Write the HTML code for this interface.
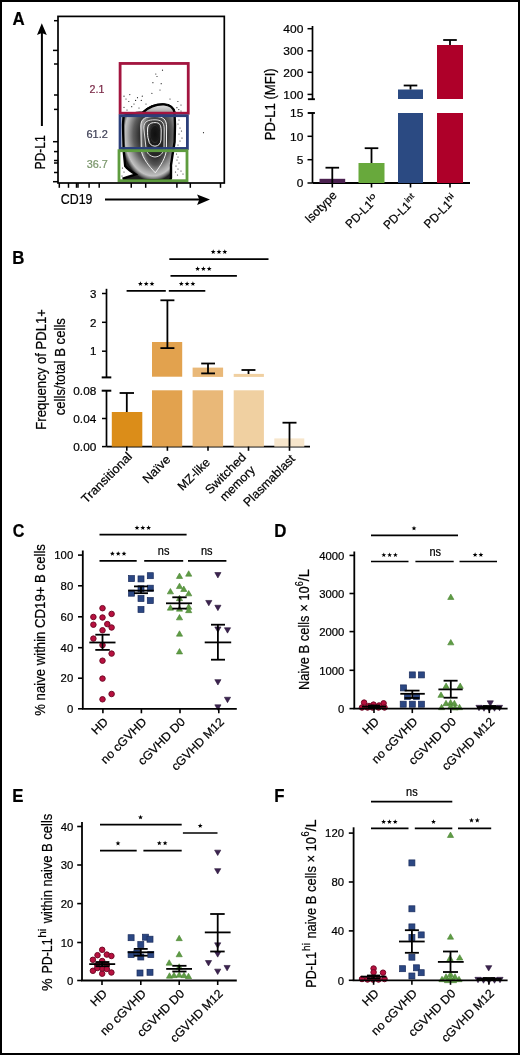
<!DOCTYPE html>
<html><head><meta charset="utf-8"><style>
html,body{margin:0;padding:0;background:#fff;}
svg{display:block;font-family:"Liberation Sans", sans-serif;will-change:transform;}
svg text{stroke:#000;stroke-width:0.22px;}
</style></head><body>
<svg width="520" height="1055" viewBox="0 0 520 1055">
<rect x="0" y="0" width="520" height="1055" fill="#fff"/>
<text transform="translate(12.4,25.4) scale(0.92,1)" font-size="18.3" font-weight="bold">A</text>
<text transform="translate(12.27,264.4) scale(0.92,1)" font-size="18.3" font-weight="bold">B</text>
<text transform="translate(12.74,537.3) scale(0.88,1)" font-size="18.3" font-weight="bold">C</text>
<text transform="translate(274.27,537.4) scale(0.92,1)" font-size="18.3" font-weight="bold">D</text>
<text transform="translate(12.27,802.3) scale(0.92,1)" font-size="18.3" font-weight="bold">E</text>
<text transform="translate(274.27,802.3) scale(0.92,1)" font-size="18.3" font-weight="bold">F</text>
<defs><radialGradient id="gOut" gradientUnits="userSpaceOnUse" cx="153" cy="135" r="32" gradientTransform="translate(153 135) scale(1 1.45) translate(-153 -135)"><stop offset="0.42" stop-color="#2e2e2e"/><stop offset="0.62" stop-color="#5e5e5e"/><stop offset="0.8" stop-color="#a8a8a8"/><stop offset="0.88" stop-color="#c2c2c2"/><stop offset="0.95" stop-color="#6a6a6a"/><stop offset="1" stop-color="#202020"/></radialGradient><linearGradient id="gTop" x1="0" y1="0" x2="0" y2="1"><stop offset="0" stop-color="#e6e6e6"/><stop offset="0.6" stop-color="#b8b8b8"/><stop offset="1" stop-color="#8a8a8a"/></linearGradient><radialGradient id="gR2" gradientUnits="userSpaceOnUse" cx="155.5" cy="140" r="15" gradientTransform="translate(155.5 140) scale(1 2.1) translate(-155.5 -140)"><stop offset="0.5" stop-color="#262626"/><stop offset="0.8" stop-color="#555"/><stop offset="1" stop-color="#a0a0a0"/></radialGradient><radialGradient id="gR1" gradientUnits="userSpaceOnUse" cx="155.3" cy="136" r="9" gradientTransform="translate(155.3 136) scale(1 2.2) translate(-155.3 -136)"><stop offset="0.55" stop-color="#1a1a1a"/><stop offset="0.82" stop-color="#4a4a4a"/><stop offset="1" stop-color="#9a9a9a"/></radialGradient><radialGradient id="gC" gradientUnits="userSpaceOnUse" cx="155" cy="134" r="6" gradientTransform="translate(155 134) scale(1 1.8) translate(-155 -134)"><stop offset="0" stop-color="#101010"/><stop offset="0.7" stop-color="#1a1a1a"/><stop offset="1" stop-color="#606060"/></radialGradient></defs>
<path d="M143,112.5 C150,106 157,104.2 164,104.5 C170,105 173.5,108 174.5,112.5 L175,125 L174.6,142 L172.5,155 L171,165 L171,178 L170,180.3 L124,180.3 L123.6,178.3 C127.5,177 131.5,175.8 135.5,174.3 C131,171.5 127.5,169 125.2,166 L123.6,150 L123,125 L123.5,116 C128,114 136,113 143,112.5 Z" fill="url(#gOut)" stroke="#000" stroke-width="2.4"/>
<path d="M143,112.5 C150,106 157,104.2 164,104.5 C170,105 173.5,108 174.5,112.5 L174.6,114 L142,114 Z" fill="url(#gTop)"/>
<path d="M143,112.5 C150,106 157,104.2 164,104.5 C170,105 173.5,108 174.5,112.5" fill="none" stroke="#000" stroke-width="2.2"/>
<path d="M140.8,126 C140.8,118 146,116.5 155,116.5 C163,116.5 166.6,119 166.6,127 L166.4,150 C165.5,158 161,165 155.3,172.8 C149,166 143,159 141.3,151 Z" fill="url(#gR2)" stroke="#f2f2f2" stroke-width="1.0"/>
<path d="M143.8,128 C143.8,121 148.5,119.8 155,119.8 C161,119.8 164.2,122 164.2,129 L164,148 C163.5,153 160.5,156.5 155,157 C149.5,156.5 146.5,153 146,148 Z" fill="url(#gR2)" stroke="#eeeeee" stroke-width="0.9"/>
<path d="M147.5,130 C147.5,124 150.5,122.6 155,122.6 C159.5,122.6 161.2,124.5 161.2,131 L161,140 C160.5,144 158.5,146 155,146.2 C151.5,146 149,144 148.6,140 C147.5,137 147.5,134 147.5,130 Z" fill="url(#gR1)" stroke="#f0f0f0" stroke-width="1.0"/>
<ellipse cx="154.8" cy="134" rx="4.6" ry="9" fill="url(#gC)"/>
<circle cx="162.5" cy="70.2" r="0.6" fill="#222"/>
<circle cx="155.8" cy="74" r="0.6" fill="#222"/>
<circle cx="157" cy="76.5" r="0.6" fill="#222"/>
<circle cx="152.9" cy="82.7" r="0.6" fill="#222"/>
<circle cx="161.2" cy="83.7" r="0.6" fill="#222"/>
<circle cx="124" cy="96.2" r="0.6" fill="#222"/>
<circle cx="129.8" cy="94.6" r="0.6" fill="#222"/>
<circle cx="137.5" cy="97.7" r="0.6" fill="#222"/>
<circle cx="142.3" cy="96.2" r="0.6" fill="#222"/>
<circle cx="128.8" cy="101.5" r="0.6" fill="#222"/>
<circle cx="135.6" cy="100.4" r="0.6" fill="#222"/>
<circle cx="141.3" cy="100.4" r="0.6" fill="#222"/>
<circle cx="151.9" cy="93.3" r="0.6" fill="#222"/>
<circle cx="177.9" cy="101.5" r="0.6" fill="#222"/>
<circle cx="167.3" cy="104.8" r="0.6" fill="#222"/>
<circle cx="124" cy="107.3" r="0.6" fill="#222"/>
<circle cx="131.7" cy="106.7" r="0.6" fill="#222"/>
<circle cx="176.9" cy="107.7" r="0.6" fill="#222"/>
<circle cx="178.8" cy="109.6" r="0.6" fill="#222"/>
<circle cx="181" cy="111" r="0.6" fill="#222"/>
<circle cx="146" cy="104" r="0.6" fill="#222"/>
<circle cx="134" cy="104" r="0.6" fill="#222"/>
<circle cx="127" cy="110" r="0.6" fill="#222"/>
<circle cx="126" cy="99" r="0.6" fill="#222"/>
<circle cx="139" cy="108" r="0.6" fill="#222"/>
<circle cx="160" cy="90" r="0.6" fill="#222"/>
<circle cx="170" cy="99" r="0.6" fill="#222"/>
<circle cx="181" cy="105" r="0.6" fill="#222"/>
<circle cx="179" cy="120" r="0.6" fill="#222"/>
<circle cx="178" cy="124" r="0.6" fill="#222"/>
<circle cx="180" cy="128" r="0.6" fill="#222"/>
<circle cx="181.5" cy="131" r="0.6" fill="#222"/>
<circle cx="179" cy="134" r="0.6" fill="#222"/>
<circle cx="182" cy="138" r="0.6" fill="#222"/>
<circle cx="180" cy="141" r="0.6" fill="#222"/>
<circle cx="178" cy="145" r="0.6" fill="#222"/>
<circle cx="176.5" cy="154" r="0.6" fill="#222"/>
<circle cx="178" cy="157" r="0.6" fill="#222"/>
<circle cx="177" cy="160" r="0.6" fill="#222"/>
<circle cx="179" cy="163" r="0.6" fill="#222"/>
<circle cx="176" cy="166" r="0.6" fill="#222"/>
<circle cx="178" cy="169" r="0.6" fill="#222"/>
<circle cx="175.5" cy="172" r="0.6" fill="#222"/>
<circle cx="177.5" cy="175" r="0.6" fill="#222"/>
<circle cx="181" cy="171" r="0.6" fill="#222"/>
<circle cx="183" cy="174" r="0.6" fill="#222"/>
<circle cx="203.5" cy="132.7" r="0.6" fill="#222"/>
<circle cx="122.5" cy="168" r="0.6" fill="#222"/>
<circle cx="124" cy="172" r="0.6" fill="#222"/>
<circle cx="122" cy="176" r="0.6" fill="#222"/>
<circle cx="127" cy="176.5" r="0.6" fill="#222"/>
<rect x="120.1" y="63.45" width="68.15" height="49.75" fill="none" stroke="#a3153f" stroke-width="2.8"/>
<rect x="120.05" y="115.7" width="67.35" height="32.75" fill="none" stroke="#2b3f7a" stroke-width="2.8"/>
<rect x="119" y="150.7" width="68" height="30" fill="none" stroke="#5e9c3e" stroke-width="2.8"/>
<rect x="58" y="16.4" width="166.3" height="166.6" fill="none" stroke="#000" stroke-width="1.7"/>
<line x1="54" y1="20.7" x2="58" y2="20.7" stroke="#000" stroke-width="1.5"/>
<line x1="53" y1="50.4" x2="58" y2="50.4" stroke="#000" stroke-width="1.5"/>
<line x1="54" y1="64" x2="58" y2="64" stroke="#000" stroke-width="1.5"/>
<line x1="54" y1="95" x2="58" y2="95" stroke="#000" stroke-width="1.5"/>
<line x1="54" y1="109.4" x2="58" y2="109.4" stroke="#000" stroke-width="1.5"/>
<line x1="53" y1="141.7" x2="58" y2="141.7" stroke="#000" stroke-width="1.5"/>
<line x1="54" y1="151.6" x2="58" y2="151.6" stroke="#000" stroke-width="1.5"/>
<line x1="54" y1="160.5" x2="58" y2="160.5" stroke="#000" stroke-width="1.5"/>
<line x1="54" y1="163" x2="58" y2="163" stroke="#000" stroke-width="1.5"/>
<line x1="54" y1="172.5" x2="58" y2="172.5" stroke="#000" stroke-width="1.5"/>
<line x1="53" y1="181.7" x2="58" y2="181.7" stroke="#000" stroke-width="1.5"/>
<line x1="59.3" y1="183" x2="59.3" y2="187.8" stroke="#000" stroke-width="1.5"/>
<line x1="68.5" y1="183" x2="68.5" y2="187.8" stroke="#000" stroke-width="1.5"/>
<line x1="76.5" y1="183" x2="76.5" y2="187.8" stroke="#000" stroke-width="1.5"/>
<line x1="78" y1="183" x2="78" y2="187.8" stroke="#000" stroke-width="1.5"/>
<line x1="89.1" y1="183" x2="89.1" y2="187.8" stroke="#000" stroke-width="1.5"/>
<line x1="99.2" y1="183" x2="99.2" y2="187.8" stroke="#000" stroke-width="1.5"/>
<line x1="131.25" y1="183" x2="131.25" y2="187.8" stroke="#000" stroke-width="1.5"/>
<line x1="145.7" y1="183" x2="145.7" y2="187.8" stroke="#000" stroke-width="1.5"/>
<line x1="176.9" y1="183" x2="176.9" y2="187.8" stroke="#000" stroke-width="1.5"/>
<line x1="190.3" y1="183" x2="190.3" y2="187.8" stroke="#000" stroke-width="1.5"/>
<line x1="220.5" y1="183" x2="220.5" y2="187.8" stroke="#000" stroke-width="1.5"/>
<line x1="41.9" y1="126" x2="41.9" y2="32" stroke="#000" stroke-width="2"/>
<polygon points="41.8,23.2 46.8,34.9 41.8,33 37,34.9" fill="#000"/>
<line x1="105" y1="199.5" x2="200" y2="199.5" stroke="#000" stroke-width="2"/>
<polygon points="210,199.5 197.1,194.6 199.3,199.5 197.1,204.9" fill="#000"/>
<g transform="translate(45.2,169.1) rotate(-90)"><text x="-0.51" y="0" font-size="14.6" textLength="34.42" lengthAdjust="spacingAndGlyphs">PD-L1</text></g>
<text x="60.8" y="204.3" font-size="14.5" fill="#000" textLength="31.7" lengthAdjust="spacingAndGlyphs">CD19</text>
<text x="97" y="93.1" font-size="10.4" fill="#7b2a48" text-anchor="middle" textLength="14.8" lengthAdjust="spacingAndGlyphs" style="stroke:#7b2a48">2.1</text>
<text x="97.2" y="137.7" font-size="10.4" fill="#404258" text-anchor="middle" textLength="21.4" lengthAdjust="spacingAndGlyphs" style="stroke:#404258">61.2</text>
<text x="97.3" y="167.8" font-size="10.4" fill="#7a966b" text-anchor="middle" textLength="21.1" lengthAdjust="spacingAndGlyphs" style="stroke:#7a966b">36.7</text>
<line x1="312.5" y1="26" x2="312.5" y2="99.2" stroke="#000" stroke-width="1.7"/>
<line x1="307.9" y1="99.2" x2="314.9" y2="99.2" stroke="#000" stroke-width="1.9"/>
<line x1="307.5" y1="28.7" x2="312.5" y2="28.7" stroke="#000" stroke-width="1.5"/>
<text x="303.3" y="32.9" font-size="11.6" fill="#000" text-anchor="end" textLength="20" lengthAdjust="spacingAndGlyphs">400</text>
<line x1="307.5" y1="50.8" x2="312.5" y2="50.8" stroke="#000" stroke-width="1.5"/>
<text x="303.3" y="55" font-size="11.6" fill="#000" text-anchor="end" textLength="20" lengthAdjust="spacingAndGlyphs">300</text>
<line x1="307.5" y1="72.3" x2="312.5" y2="72.3" stroke="#000" stroke-width="1.5"/>
<text x="303.3" y="76.5" font-size="11.6" fill="#000" text-anchor="end" textLength="20" lengthAdjust="spacingAndGlyphs">200</text>
<line x1="307.5" y1="94.4" x2="312.5" y2="94.4" stroke="#000" stroke-width="1.5"/>
<text x="303.3" y="98.6" font-size="11.6" fill="#000" text-anchor="end" textLength="20" lengthAdjust="spacingAndGlyphs">100</text>
<line x1="312.5" y1="112.6" x2="312.5" y2="183" stroke="#000" stroke-width="1.7"/>
<line x1="307.7" y1="113" x2="314.9" y2="113" stroke="#000" stroke-width="1.9"/>
<line x1="307.5" y1="136.3" x2="312.5" y2="136.3" stroke="#000" stroke-width="1.5"/>
<text x="303.3" y="140.5" font-size="11.6" fill="#000" text-anchor="end" textLength="13.3" lengthAdjust="spacingAndGlyphs">10</text>
<line x1="307.5" y1="159.7" x2="312.5" y2="159.7" stroke="#000" stroke-width="1.5"/>
<text x="303.3" y="163.9" font-size="11.6" fill="#000" text-anchor="end" textLength="6.6" lengthAdjust="spacingAndGlyphs">5</text>
<line x1="307.5" y1="183" x2="312.5" y2="183" stroke="#000" stroke-width="1.5"/>
<text x="303.3" y="187.2" font-size="11.6" fill="#000" text-anchor="end" textLength="6.6" lengthAdjust="spacingAndGlyphs">0</text>
<text x="303.3" y="117.2" font-size="11.6" fill="#000" text-anchor="end" textLength="13.3" lengthAdjust="spacingAndGlyphs">15</text>
<line x1="312.5" y1="183" x2="470" y2="183" stroke="#000" stroke-width="1.8"/>
<rect x="319.5" y="178.8" width="25.7" height="4.2" fill="#4b2150"/>
<rect x="358.5" y="163" width="26" height="20" fill="#68a93c"/>
<rect x="398" y="113" width="25" height="70" fill="#2b4a82"/>
<rect x="398" y="89.5" width="25" height="9.5" fill="#2b4a82"/>
<rect x="437" y="113" width="26" height="70" fill="#ae0029"/>
<rect x="437" y="45" width="26" height="54" fill="#ae0029"/>
<line x1="332.3" y1="167.7" x2="332.3" y2="183" stroke="#000" stroke-width="1.8"/>
<line x1="325.5" y1="167.7" x2="339.1" y2="167.7" stroke="#000" stroke-width="1.8"/>
<line x1="371.5" y1="148.2" x2="371.5" y2="163" stroke="#000" stroke-width="1.8"/>
<line x1="364.7" y1="148.2" x2="378.3" y2="148.2" stroke="#000" stroke-width="1.8"/>
<line x1="410.5" y1="85.5" x2="410.5" y2="89.5" stroke="#000" stroke-width="1.8"/>
<line x1="403.7" y1="85.5" x2="417.3" y2="85.5" stroke="#000" stroke-width="1.8"/>
<line x1="450" y1="40" x2="450" y2="45" stroke="#000" stroke-width="1.8"/>
<line x1="443.2" y1="40" x2="456.8" y2="40" stroke="#000" stroke-width="1.8"/>
<line x1="332.3" y1="183" x2="332.3" y2="187.5" stroke="#000" stroke-width="1.6"/>
<line x1="371.5" y1="183" x2="371.5" y2="187.5" stroke="#000" stroke-width="1.6"/>
<line x1="410.5" y1="183" x2="410.5" y2="187.5" stroke="#000" stroke-width="1.6"/>
<line x1="450" y1="183" x2="450" y2="187.5" stroke="#000" stroke-width="1.6"/>
<g transform="translate(274.6,139.8) rotate(-90)"><text x="-0.51" y="0" font-size="14.6" textLength="72.02" lengthAdjust="spacingAndGlyphs">PD-L1 (MFI)</text></g>
<text transform="translate(309.71,223.87) rotate(-45)" font-size="12" fill="#000" textLength="39.4" lengthAdjust="spacingAndGlyphs">Isotype</text>
<text transform="translate(350.37,228.89) rotate(-45)" font-size="12" fill="#000" textLength="33.1" lengthAdjust="spacingAndGlyphs">PD-L1</text>
<text transform="translate(369.96,202.23) rotate(-45)" font-size="8.2" fill="#000" textLength="8.5" lengthAdjust="spacingAndGlyphs">lo</text>
<text transform="translate(388.31,229.95) rotate(-45)" font-size="12" fill="#000" textLength="33.1" lengthAdjust="spacingAndGlyphs">PD-L1</text>
<text transform="translate(407.9,203.29) rotate(-45)" font-size="8.2" fill="#000" textLength="9.5" lengthAdjust="spacingAndGlyphs">int</text>
<text transform="translate(428.87,228.89) rotate(-45)" font-size="12" fill="#000" textLength="33.1" lengthAdjust="spacingAndGlyphs">PD-L1</text>
<text transform="translate(448.46,202.23) rotate(-45)" font-size="8.2" fill="#000" textLength="8.2" lengthAdjust="spacingAndGlyphs">hi</text>
<line x1="106.5" y1="288.8" x2="106.5" y2="377.4" stroke="#000" stroke-width="1.7"/>
<line x1="101.7" y1="377.4" x2="111.3" y2="377.4" stroke="#000" stroke-width="2"/>
<line x1="102" y1="293.5" x2="106.5" y2="293.5" stroke="#000" stroke-width="1.5"/>
<text x="96.3" y="297.7" font-size="11.6" fill="#000" text-anchor="end" textLength="6.4" lengthAdjust="spacingAndGlyphs">3</text>
<line x1="102" y1="322.3" x2="106.5" y2="322.3" stroke="#000" stroke-width="1.5"/>
<text x="96.3" y="326.5" font-size="11.6" fill="#000" text-anchor="end" textLength="6.4" lengthAdjust="spacingAndGlyphs">2</text>
<line x1="102" y1="351.2" x2="106.5" y2="351.2" stroke="#000" stroke-width="1.5"/>
<text x="96.3" y="355.4" font-size="11.6" fill="#000" text-anchor="end" textLength="6.4" lengthAdjust="spacingAndGlyphs">1</text>
<line x1="106.5" y1="390.7" x2="106.5" y2="446.6" stroke="#000" stroke-width="1.7"/>
<line x1="101.7" y1="390.7" x2="111.3" y2="390.7" stroke="#000" stroke-width="2"/>
<line x1="102" y1="418.5" x2="106.5" y2="418.5" stroke="#000" stroke-width="1.5"/>
<text x="96.3" y="422.7" font-size="11.6" fill="#000" text-anchor="end" textLength="23" lengthAdjust="spacingAndGlyphs">0.04</text>
<line x1="102" y1="446.6" x2="106.5" y2="446.6" stroke="#000" stroke-width="1.5"/>
<text x="96.3" y="450.8" font-size="11.6" fill="#000" text-anchor="end" textLength="23" lengthAdjust="spacingAndGlyphs">0.00</text>
<text x="96.3" y="394.5" font-size="11.6" fill="#000" text-anchor="end" textLength="23" lengthAdjust="spacingAndGlyphs">0.08</text>
<line x1="106.5" y1="446.6" x2="310" y2="446.6" stroke="#000" stroke-width="1.8"/>
<rect x="111.8" y="412" width="30.5" height="34.6" fill="#db8d19"/>
<rect x="152" y="342" width="30.2" height="34.7" fill="#e2a24e"/>
<rect x="152" y="390.3" width="30.2" height="56.3" fill="#e2a24e"/>
<rect x="192.6" y="367.6" width="30.5" height="9.3" fill="#e9b878"/>
<rect x="192.6" y="390.3" width="30.5" height="56.3" fill="#e9b878"/>
<rect x="233.7" y="373.9" width="30.2" height="3" fill="#f0d0a1"/>
<rect x="233.7" y="390.3" width="30.2" height="56.3" fill="#f0d0a1"/>
<rect x="274.3" y="438.4" width="30" height="8.2" fill="#f7e6cc"/>
<line x1="126.8" y1="393" x2="126.8" y2="412" stroke="#000" stroke-width="1.8"/>
<line x1="119.6" y1="393" x2="134" y2="393" stroke="#000" stroke-width="1.8"/>
<line x1="167.4" y1="300.3" x2="167.4" y2="348.1" stroke="#000" stroke-width="1.8"/>
<line x1="160.4" y1="300.3" x2="174.4" y2="300.3" stroke="#000" stroke-width="1.8"/>
<line x1="160.4" y1="348.1" x2="174.4" y2="348.1" stroke="#000" stroke-width="1.8"/>
<line x1="208" y1="363.5" x2="208" y2="373.4" stroke="#000" stroke-width="1.8"/>
<line x1="201.2" y1="363.5" x2="215" y2="363.5" stroke="#000" stroke-width="1.8"/>
<line x1="201.2" y1="373.4" x2="215" y2="373.4" stroke="#000" stroke-width="1.8"/>
<line x1="248.5" y1="370" x2="248.5" y2="374" stroke="#000" stroke-width="1.8"/>
<line x1="241.5" y1="370" x2="255.4" y2="370" stroke="#000" stroke-width="1.8"/>
<line x1="289.5" y1="422.7" x2="289.5" y2="446.6" stroke="#000" stroke-width="1.8"/>
<line x1="282.5" y1="422.7" x2="296.5" y2="422.7" stroke="#000" stroke-width="1.8"/>
<line x1="126.8" y1="446.6" x2="126.8" y2="450.8" stroke="#000" stroke-width="1.6"/>
<line x1="167.4" y1="446.6" x2="167.4" y2="450.8" stroke="#000" stroke-width="1.6"/>
<line x1="208" y1="446.6" x2="208" y2="450.8" stroke="#000" stroke-width="1.6"/>
<line x1="248.5" y1="446.6" x2="248.5" y2="450.8" stroke="#000" stroke-width="1.6"/>
<line x1="289.5" y1="446.6" x2="289.5" y2="450.8" stroke="#000" stroke-width="1.6"/>
<line x1="126.6" y1="290.8" x2="165.8" y2="290.8" stroke="#000" stroke-width="1.7"/>
<polygon points="140.4,281.25 141.03,282.93 142.83,283.01 141.43,284.13 141.9,285.86 140.4,284.88 138.9,285.86 139.37,284.13 137.97,283.01 139.77,282.93" fill="#000"/>
<polygon points="146.2,281.25 146.83,282.93 148.63,283.01 147.23,284.13 147.7,285.86 146.2,284.88 144.7,285.86 145.17,284.13 143.77,283.01 145.57,282.93" fill="#000"/>
<polygon points="152,281.25 152.63,282.93 154.43,283.01 153.03,284.13 153.5,285.86 152,284.88 150.5,285.86 150.97,284.13 149.57,283.01 151.37,282.93" fill="#000"/>
<line x1="168.8" y1="290.8" x2="205.3" y2="290.8" stroke="#000" stroke-width="1.7"/>
<polygon points="181.3,281.25 181.93,282.93 183.73,283.01 182.33,284.13 182.8,285.86 181.3,284.88 179.8,285.86 180.27,284.13 178.87,283.01 180.67,282.93" fill="#000"/>
<polygon points="187.1,281.25 187.73,282.93 189.53,283.01 188.13,284.13 188.6,285.86 187.1,284.88 185.6,285.86 186.07,284.13 184.67,283.01 186.47,282.93" fill="#000"/>
<polygon points="192.9,281.25 193.53,282.93 195.33,283.01 193.93,284.13 194.4,285.86 192.9,284.88 191.4,285.86 191.87,284.13 190.47,283.01 192.27,282.93" fill="#000"/>
<line x1="170.5" y1="275.8" x2="236.9" y2="275.8" stroke="#000" stroke-width="1.7"/>
<polygon points="197.6,266.25 198.23,267.93 200.03,268.01 198.63,269.13 199.1,270.86 197.6,269.88 196.1,270.86 196.57,269.13 195.17,268.01 196.97,267.93" fill="#000"/>
<polygon points="203.4,266.25 204.03,267.93 205.83,268.01 204.43,269.13 204.9,270.86 203.4,269.88 201.9,270.86 202.37,269.13 200.97,268.01 202.77,267.93" fill="#000"/>
<polygon points="209.2,266.25 209.83,267.93 211.63,268.01 210.23,269.13 210.7,270.86 209.2,269.88 207.7,270.86 208.17,269.13 206.77,268.01 208.57,267.93" fill="#000"/>
<line x1="169.3" y1="259.2" x2="268.5" y2="259.2" stroke="#000" stroke-width="1.7"/>
<polygon points="213.2,249.35 213.83,251.03 215.63,251.11 214.23,252.23 214.7,253.96 213.2,252.98 211.7,253.96 212.17,252.23 210.77,251.11 212.57,251.03" fill="#000"/>
<polygon points="219,249.35 219.63,251.03 221.43,251.11 220.03,252.23 220.5,253.96 219,252.98 217.5,253.96 217.97,252.23 216.57,251.11 218.37,251.03" fill="#000"/>
<polygon points="224.8,249.35 225.43,251.03 227.23,251.11 225.83,252.23 226.3,253.96 224.8,252.98 223.3,253.96 223.77,252.23 222.37,251.11 224.17,251.03" fill="#000"/>
<g transform="translate(46.3,429.2) rotate(-90)"><text x="-0.51" y="0" font-size="14.6" textLength="120.72" lengthAdjust="spacingAndGlyphs">Frequency of PDL1+</text></g>
<g transform="translate(64.8,414.8) rotate(-90)"><text x="-0.51" y="0" font-size="14.6" textLength="97.22" lengthAdjust="spacingAndGlyphs">cells/total B cells</text></g>
<text transform="translate(86.2,503.96) rotate(-45)" font-size="12.2" fill="#000" textLength="66" lengthAdjust="spacingAndGlyphs">Transitional</text>
<text transform="translate(147.43,484.01) rotate(-45)" font-size="12.2" fill="#000" textLength="33.6" lengthAdjust="spacingAndGlyphs">Naïve</text>
<text transform="translate(182.57,491.3) rotate(-45)" font-size="12.2" fill="#000" textLength="39.9" lengthAdjust="spacingAndGlyphs">MZ-like</text>
<text transform="translate(209.94,494.76) rotate(-45)" font-size="12.2" fill="#000" textLength="52" lengthAdjust="spacingAndGlyphs">Switched</text>
<text transform="translate(224.65,501.83) rotate(-45)" font-size="12.2" fill="#000" textLength="44" lengthAdjust="spacingAndGlyphs">memory</text>
<text transform="translate(248.27,507.21) rotate(-45)" font-size="12.2" fill="#000" textLength="67.2" lengthAdjust="spacingAndGlyphs">Plasmablast</text>
<line x1="82.8" y1="550.5" x2="82.8" y2="708.8" stroke="#000" stroke-width="1.8"/>
<line x1="78" y1="555.1" x2="82.8" y2="555.1" stroke="#000" stroke-width="1.6"/>
<text x="73.2" y="559.3" font-size="11.6" fill="#000" text-anchor="end" textLength="18.9" lengthAdjust="spacingAndGlyphs">100</text>
<line x1="78" y1="585.8" x2="82.8" y2="585.8" stroke="#000" stroke-width="1.6"/>
<text x="73.2" y="590" font-size="11.6" fill="#000" text-anchor="end" textLength="12.6" lengthAdjust="spacingAndGlyphs">80</text>
<line x1="78" y1="616.8" x2="82.8" y2="616.8" stroke="#000" stroke-width="1.6"/>
<text x="73.2" y="621" font-size="11.6" fill="#000" text-anchor="end" textLength="12.6" lengthAdjust="spacingAndGlyphs">60</text>
<line x1="78" y1="647.7" x2="82.8" y2="647.7" stroke="#000" stroke-width="1.6"/>
<text x="73.2" y="651.9" font-size="11.6" fill="#000" text-anchor="end" textLength="12.6" lengthAdjust="spacingAndGlyphs">40</text>
<line x1="78" y1="678.2" x2="82.8" y2="678.2" stroke="#000" stroke-width="1.6"/>
<text x="73.2" y="682.4" font-size="11.6" fill="#000" text-anchor="end" textLength="12.6" lengthAdjust="spacingAndGlyphs">20</text>
<line x1="78" y1="708.8" x2="82.8" y2="708.8" stroke="#000" stroke-width="1.6"/>
<text x="73.2" y="713" font-size="11.6" fill="#000" text-anchor="end" textLength="6.3" lengthAdjust="spacingAndGlyphs">0</text>
<circle cx="102.5" cy="608.2" r="2.75" fill="#b8103f" stroke="#720a27" stroke-width="1.0"/>
<circle cx="111.6" cy="613.9" r="2.75" fill="#b8103f" stroke="#720a27" stroke-width="1.0"/>
<circle cx="93.4" cy="617" r="2.75" fill="#b8103f" stroke="#720a27" stroke-width="1.0"/>
<circle cx="102.5" cy="617.5" r="2.75" fill="#b8103f" stroke="#720a27" stroke-width="1.0"/>
<circle cx="93.4" cy="624.7" r="2.75" fill="#b8103f" stroke="#720a27" stroke-width="1.0"/>
<circle cx="107.3" cy="624.1" r="2.75" fill="#b8103f" stroke="#720a27" stroke-width="1.0"/>
<circle cx="111.6" cy="627.5" r="2.75" fill="#b8103f" stroke="#720a27" stroke-width="1.0"/>
<circle cx="102.5" cy="630.3" r="2.75" fill="#b8103f" stroke="#720a27" stroke-width="1.0"/>
<circle cx="93.4" cy="638.6" r="2.75" fill="#b8103f" stroke="#720a27" stroke-width="1.0"/>
<circle cx="102.5" cy="645.1" r="2.75" fill="#b8103f" stroke="#720a27" stroke-width="1.0"/>
<circle cx="111.6" cy="653.6" r="2.75" fill="#b8103f" stroke="#720a27" stroke-width="1.0"/>
<circle cx="102.5" cy="660.7" r="2.75" fill="#b8103f" stroke="#720a27" stroke-width="1.0"/>
<circle cx="102.5" cy="678.6" r="2.75" fill="#b8103f" stroke="#720a27" stroke-width="1.0"/>
<circle cx="111.6" cy="694" r="2.75" fill="#b8103f" stroke="#720a27" stroke-width="1.0"/>
<circle cx="102.5" cy="699.3" r="2.75" fill="#b8103f" stroke="#720a27" stroke-width="1.0"/>
<rect x="128.5" y="575.6" width="6" height="6" fill="#2b4783" stroke="#1b2d5c" stroke-width="0.7"/>
<rect x="138" y="575.9" width="6" height="6" fill="#2b4783" stroke="#1b2d5c" stroke-width="0.7"/>
<rect x="147.3" y="572.7" width="6" height="6" fill="#2b4783" stroke="#1b2d5c" stroke-width="0.7"/>
<rect x="128.5" y="590.2" width="6" height="6" fill="#2b4783" stroke="#1b2d5c" stroke-width="0.7"/>
<rect x="138" y="585.8" width="6" height="6" fill="#2b4783" stroke="#1b2d5c" stroke-width="0.7"/>
<rect x="147.3" y="585.2" width="6" height="6" fill="#2b4783" stroke="#1b2d5c" stroke-width="0.7"/>
<rect x="138" y="595.5" width="6" height="6" fill="#2b4783" stroke="#1b2d5c" stroke-width="0.7"/>
<rect x="147.3" y="597.6" width="6" height="6" fill="#2b4783" stroke="#1b2d5c" stroke-width="0.7"/>
<rect x="138" y="606.5" width="6" height="6" fill="#2b4783" stroke="#1b2d5c" stroke-width="0.7"/>
<polygon points="188.7,570.76 191.8,576.16 185.6,576.16" fill="#5e9c44" stroke="#4a8533" stroke-width="0.6"/>
<polygon points="179.5,573.06 182.6,578.46 176.4,578.46" fill="#5e9c44" stroke="#4a8533" stroke-width="0.6"/>
<polygon points="179.5,583.16 182.6,588.56 176.4,588.56" fill="#5e9c44" stroke="#4a8533" stroke-width="0.6"/>
<polygon points="183.8,586.06 186.9,591.46 180.7,591.46" fill="#5e9c44" stroke="#4a8533" stroke-width="0.6"/>
<polygon points="170.4,588.46 173.5,593.86 167.3,593.86" fill="#5e9c44" stroke="#4a8533" stroke-width="0.6"/>
<polygon points="188.7,590.46 191.8,595.86 185.6,595.86" fill="#5e9c44" stroke="#4a8533" stroke-width="0.6"/>
<polygon points="179.5,595.26 182.6,600.66 176.4,600.66" fill="#5e9c44" stroke="#4a8533" stroke-width="0.6"/>
<polygon points="170.4,604.76 173.5,610.16 167.3,610.16" fill="#5e9c44" stroke="#4a8533" stroke-width="0.6"/>
<polygon points="188.7,603.86 191.8,609.26 185.6,609.26" fill="#5e9c44" stroke="#4a8533" stroke-width="0.6"/>
<polygon points="188.7,607.26 191.8,612.66 185.6,612.66" fill="#5e9c44" stroke="#4a8533" stroke-width="0.6"/>
<polygon points="179.5,605.76 182.6,611.16 176.4,611.16" fill="#5e9c44" stroke="#4a8533" stroke-width="0.6"/>
<polygon points="179.5,614.46 182.6,619.86 176.4,619.86" fill="#5e9c44" stroke="#4a8533" stroke-width="0.6"/>
<polygon points="179.5,630.76 182.6,636.16 176.4,636.16" fill="#5e9c44" stroke="#4a8533" stroke-width="0.6"/>
<polygon points="179.5,648.56 182.6,653.96 176.4,653.96" fill="#5e9c44" stroke="#4a8533" stroke-width="0.6"/>
<polygon points="217.9,577.94 221,572.54 214.8,572.54" fill="#3c2350" stroke="#291638" stroke-width="0.6"/>
<polygon points="208.8,605.84 211.9,600.44 205.7,600.44" fill="#3c2350" stroke="#291638" stroke-width="0.6"/>
<polygon points="217.9,610.64 221,605.24 214.8,605.24" fill="#3c2350" stroke="#291638" stroke-width="0.6"/>
<polygon points="217.9,632.34 221,626.94 214.8,626.94" fill="#3c2350" stroke="#291638" stroke-width="0.6"/>
<polygon points="227.5,633.14 230.6,627.74 224.4,627.74" fill="#3c2350" stroke="#291638" stroke-width="0.6"/>
<polygon points="217.9,685.04 221,679.64 214.8,679.64" fill="#3c2350" stroke="#291638" stroke-width="0.6"/>
<polygon points="227.5,702.64 230.6,697.24 224.4,697.24" fill="#3c2350" stroke="#291638" stroke-width="0.6"/>
<polygon points="217.9,710.24 221,704.84 214.8,704.84" fill="#3c2350" stroke="#291638" stroke-width="0.6"/>
<line x1="102.5" y1="634.7" x2="102.5" y2="649.9" stroke="#000" stroke-width="1.8"/>
<line x1="89.3" y1="642.5" x2="115.5" y2="642.5" stroke="#000" stroke-width="1.8"/>
<line x1="95.3" y1="634.7" x2="109.8" y2="634.7" stroke="#000" stroke-width="1.8"/>
<line x1="95.3" y1="649.9" x2="109.8" y2="649.9" stroke="#000" stroke-width="1.8"/>
<line x1="141" y1="586.4" x2="141" y2="593.2" stroke="#000" stroke-width="1.8"/>
<line x1="128.2" y1="590.6" x2="153.8" y2="590.6" stroke="#000" stroke-width="1.8"/>
<line x1="134" y1="586.4" x2="148" y2="586.4" stroke="#000" stroke-width="1.8"/>
<line x1="134" y1="593.2" x2="148" y2="593.2" stroke="#000" stroke-width="1.8"/>
<line x1="179.5" y1="597.3" x2="179.5" y2="608.6" stroke="#000" stroke-width="1.8"/>
<line x1="166" y1="603.3" x2="192" y2="603.3" stroke="#000" stroke-width="1.8"/>
<line x1="172.3" y1="597.3" x2="186.7" y2="597.3" stroke="#000" stroke-width="1.8"/>
<line x1="172.3" y1="608.6" x2="186.7" y2="608.6" stroke="#000" stroke-width="1.8"/>
<line x1="217.9" y1="624.7" x2="217.9" y2="659.7" stroke="#000" stroke-width="1.8"/>
<line x1="204.7" y1="642.4" x2="231.2" y2="642.4" stroke="#000" stroke-width="1.8"/>
<line x1="211" y1="624.7" x2="225" y2="624.7" stroke="#000" stroke-width="1.8"/>
<line x1="211" y1="659.7" x2="225" y2="659.7" stroke="#000" stroke-width="1.8"/>
<line x1="81.9" y1="708.8" x2="236.8" y2="708.8" stroke="#000" stroke-width="1.8"/>
<line x1="102.9" y1="708.8" x2="102.9" y2="713.3" stroke="#000" stroke-width="1.6"/>
<line x1="141.4" y1="708.8" x2="141.4" y2="713.3" stroke="#000" stroke-width="1.6"/>
<line x1="180" y1="708.8" x2="180" y2="713.3" stroke="#000" stroke-width="1.6"/>
<line x1="218.8" y1="708.8" x2="218.8" y2="713.3" stroke="#000" stroke-width="1.6"/>
<text transform="translate(96.18,735.32) rotate(-45)" font-size="12" fill="#000" textLength="17.9" lengthAdjust="spacingAndGlyphs">HD</text>
<text transform="translate(105.62,764.38) rotate(-45)" font-size="12" fill="#000" textLength="59" lengthAdjust="spacingAndGlyphs">no cGVHD</text>
<text transform="translate(142.81,765.79) rotate(-45)" font-size="12" fill="#000" textLength="61" lengthAdjust="spacingAndGlyphs">cGVHD D0</text>
<text transform="translate(176.16,771.24) rotate(-45)" font-size="12" fill="#000" textLength="68.7" lengthAdjust="spacingAndGlyphs">cGVHD M12</text>
<line x1="99.5" y1="534.6" x2="186.6" y2="534.6" stroke="#000" stroke-width="1.7"/>
<polygon points="137,525.25 137.63,526.93 139.43,527.01 138.03,528.13 138.5,529.86 137,528.88 135.5,529.86 135.97,528.13 134.57,527.01 136.37,526.93" fill="#000"/>
<polygon points="142.8,525.25 143.43,526.93 145.23,527.01 143.83,528.13 144.3,529.86 142.8,528.88 141.3,529.86 141.77,528.13 140.37,527.01 142.17,526.93" fill="#000"/>
<polygon points="148.6,525.25 149.23,526.93 151.03,527.01 149.63,528.13 150.1,529.86 148.6,528.88 147.1,529.86 147.57,528.13 146.17,527.01 147.97,526.93" fill="#000"/>
<line x1="99.5" y1="560.8" x2="136.7" y2="560.8" stroke="#000" stroke-width="1.7"/>
<polygon points="112.4,551.15 113.03,552.83 114.83,552.91 113.43,554.03 113.9,555.76 112.4,554.78 110.9,555.76 111.37,554.03 109.97,552.91 111.77,552.83" fill="#000"/>
<polygon points="118.2,551.15 118.83,552.83 120.63,552.91 119.23,554.03 119.7,555.76 118.2,554.78 116.7,555.76 117.17,554.03 115.77,552.91 117.57,552.83" fill="#000"/>
<polygon points="124,551.15 124.63,552.83 126.43,552.91 125.03,554.03 125.5,555.76 124,554.78 122.5,555.76 122.97,554.03 121.57,552.91 123.37,552.83" fill="#000"/>
<line x1="144.2" y1="560.8" x2="183.2" y2="560.8" stroke="#000" stroke-width="1.7"/>
<text x="163.6" y="555.4" font-size="12.2" fill="#000" text-anchor="middle" textLength="11.6" lengthAdjust="spacingAndGlyphs">ns</text>
<line x1="188" y1="560.8" x2="226.4" y2="560.8" stroke="#000" stroke-width="1.7"/>
<text x="206.8" y="555.4" font-size="12.2" fill="#000" text-anchor="middle" textLength="11.6" lengthAdjust="spacingAndGlyphs">ns</text>
<g transform="translate(45.2,715.3) rotate(-90)"><text x="-0.51" y="0" font-size="14.6" textLength="171.72" lengthAdjust="spacingAndGlyphs">% naive within CD19+ B cells</text></g>
<line x1="354.3" y1="551.5" x2="354.3" y2="708.6" stroke="#000" stroke-width="1.8"/>
<line x1="349.5" y1="555.4" x2="354.3" y2="555.4" stroke="#000" stroke-width="1.6"/>
<text x="344.4" y="559.6" font-size="11.6" fill="#000" text-anchor="end" textLength="25.2" lengthAdjust="spacingAndGlyphs">4000</text>
<line x1="349.5" y1="593.5" x2="354.3" y2="593.5" stroke="#000" stroke-width="1.6"/>
<text x="344.4" y="597.7" font-size="11.6" fill="#000" text-anchor="end" textLength="25.2" lengthAdjust="spacingAndGlyphs">3000</text>
<line x1="349.5" y1="631.6" x2="354.3" y2="631.6" stroke="#000" stroke-width="1.6"/>
<text x="344.4" y="635.8" font-size="11.6" fill="#000" text-anchor="end" textLength="25.2" lengthAdjust="spacingAndGlyphs">2000</text>
<line x1="349.5" y1="670.3" x2="354.3" y2="670.3" stroke="#000" stroke-width="1.6"/>
<text x="344.4" y="674.5" font-size="11.6" fill="#000" text-anchor="end" textLength="25.2" lengthAdjust="spacingAndGlyphs">1000</text>
<line x1="349.5" y1="708.6" x2="354.3" y2="708.6" stroke="#000" stroke-width="1.6"/>
<text x="344.4" y="712.8" font-size="11.6" fill="#000" text-anchor="end" textLength="6.3" lengthAdjust="spacingAndGlyphs">0</text>
<circle cx="364.1" cy="702.6" r="2.75" fill="#b8103f" stroke="#720a27" stroke-width="1.0"/>
<circle cx="373.5" cy="704.6" r="2.75" fill="#b8103f" stroke="#720a27" stroke-width="1.0"/>
<circle cx="383.6" cy="703.3" r="2.75" fill="#b8103f" stroke="#720a27" stroke-width="1.0"/>
<circle cx="362" cy="707.5" r="2.75" fill="#b8103f" stroke="#720a27" stroke-width="1.0"/>
<circle cx="367.5" cy="707.5" r="2.75" fill="#b8103f" stroke="#720a27" stroke-width="1.0"/>
<circle cx="372.5" cy="707.5" r="2.75" fill="#b8103f" stroke="#720a27" stroke-width="1.0"/>
<circle cx="378.5" cy="707.5" r="2.75" fill="#b8103f" stroke="#720a27" stroke-width="1.0"/>
<circle cx="384.5" cy="707.5" r="2.75" fill="#b8103f" stroke="#720a27" stroke-width="1.0"/>
<circle cx="369" cy="706" r="2.75" fill="#b8103f" stroke="#720a27" stroke-width="1.0"/>
<circle cx="379" cy="705.5" r="2.75" fill="#b8103f" stroke="#720a27" stroke-width="1.0"/>
<rect x="409.3" y="671.9" width="6" height="6" fill="#2b4783" stroke="#1b2d5c" stroke-width="0.7"/>
<rect x="418.4" y="671.9" width="6" height="6" fill="#2b4783" stroke="#1b2d5c" stroke-width="0.7"/>
<rect x="400.5" y="684.9" width="6" height="6" fill="#2b4783" stroke="#1b2d5c" stroke-width="0.7"/>
<rect x="404.5" y="693.5" width="6" height="6" fill="#2b4783" stroke="#1b2d5c" stroke-width="0.7"/>
<rect x="413.6" y="693.5" width="6" height="6" fill="#2b4783" stroke="#1b2d5c" stroke-width="0.7"/>
<rect x="400.2" y="701.2" width="6" height="6" fill="#2b4783" stroke="#1b2d5c" stroke-width="0.7"/>
<rect x="409.3" y="701.2" width="6" height="6" fill="#2b4783" stroke="#1b2d5c" stroke-width="0.7"/>
<rect x="418.4" y="701.2" width="6" height="6" fill="#2b4783" stroke="#1b2d5c" stroke-width="0.7"/>
<polygon points="450.8,594.06 453.9,599.46 447.7,599.46" fill="#5e9c44" stroke="#4a8533" stroke-width="0.6"/>
<polygon points="450.8,639.46 453.9,644.86 447.7,644.86" fill="#5e9c44" stroke="#4a8533" stroke-width="0.6"/>
<polygon points="446.1,682.96 449.2,688.36 443,688.36" fill="#5e9c44" stroke="#4a8533" stroke-width="0.6"/>
<polygon points="460.2,682.96 463.3,688.36 457.1,688.36" fill="#5e9c44" stroke="#4a8533" stroke-width="0.6"/>
<polygon points="441,691.96 444.1,697.36 437.9,697.36" fill="#5e9c44" stroke="#4a8533" stroke-width="0.6"/>
<polygon points="441.6,704.26 444.7,709.66 438.5,709.66" fill="#5e9c44" stroke="#4a8533" stroke-width="0.6"/>
<polygon points="446,700.26 449.1,705.66 442.9,705.66" fill="#5e9c44" stroke="#4a8533" stroke-width="0.6"/>
<polygon points="450.6,699.56 453.7,704.96 447.5,704.96" fill="#5e9c44" stroke="#4a8533" stroke-width="0.6"/>
<polygon points="454.4,700.26 457.5,705.66 451.3,705.66" fill="#5e9c44" stroke="#4a8533" stroke-width="0.6"/>
<polygon points="459.5,704.26 462.6,709.66 456.4,709.66" fill="#5e9c44" stroke="#4a8533" stroke-width="0.6"/>
<polygon points="450.6,703.46 453.7,708.86 447.5,708.86" fill="#5e9c44" stroke="#4a8533" stroke-width="0.6"/>
<polygon points="455,704.56 458.1,709.96 451.9,709.96" fill="#5e9c44" stroke="#4a8533" stroke-width="0.6"/>
<polygon points="490.3,706.24 493.4,700.84 487.2,700.84" fill="#3c2350" stroke="#291638" stroke-width="0.6"/>
<polygon points="479,710.74 482.1,705.34 475.9,705.34" fill="#3c2350" stroke="#291638" stroke-width="0.6"/>
<polygon points="484,711.24 487.1,705.84 480.9,705.84" fill="#3c2350" stroke="#291638" stroke-width="0.6"/>
<polygon points="489.3,711.74 492.4,706.34 486.2,706.34" fill="#3c2350" stroke="#291638" stroke-width="0.6"/>
<polygon points="494.5,711.24 497.6,705.84 491.4,705.84" fill="#3c2350" stroke="#291638" stroke-width="0.6"/>
<polygon points="499.5,710.74 502.6,705.34 496.4,705.34" fill="#3c2350" stroke="#291638" stroke-width="0.6"/>
<line x1="374" y1="705.5" x2="374" y2="707.5" stroke="#000" stroke-width="1.8"/>
<line x1="362" y1="706.6" x2="386" y2="706.6" stroke="#000" stroke-width="1.8"/>
<line x1="368" y1="705.5" x2="380" y2="705.5" stroke="#000" stroke-width="1.8"/>
<line x1="368" y1="707.5" x2="380" y2="707.5" stroke="#000" stroke-width="1.8"/>
<line x1="412.3" y1="690.6" x2="412.3" y2="698" stroke="#000" stroke-width="1.8"/>
<line x1="400.3" y1="693.8" x2="424.8" y2="693.8" stroke="#000" stroke-width="1.8"/>
<line x1="404.6" y1="690.6" x2="419.5" y2="690.6" stroke="#000" stroke-width="1.8"/>
<line x1="404.6" y1="698" x2="419.5" y2="698" stroke="#000" stroke-width="1.8"/>
<line x1="450.8" y1="680.7" x2="450.8" y2="697.7" stroke="#000" stroke-width="1.8"/>
<line x1="438.4" y1="689.4" x2="462.7" y2="689.4" stroke="#000" stroke-width="1.8"/>
<line x1="443.6" y1="680.7" x2="457.6" y2="680.7" stroke="#000" stroke-width="1.8"/>
<line x1="443.6" y1="697.7" x2="457.6" y2="697.7" stroke="#000" stroke-width="1.8"/>
<line x1="489.3" y1="706" x2="489.3" y2="708" stroke="#000" stroke-width="1.8"/>
<line x1="477" y1="707" x2="501.5" y2="707" stroke="#000" stroke-width="1.8"/>
<line x1="483" y1="706" x2="496" y2="706" stroke="#000" stroke-width="1.8"/>
<line x1="483" y1="708" x2="496" y2="708" stroke="#000" stroke-width="1.8"/>
<line x1="353.4" y1="708.6" x2="507.6" y2="708.6" stroke="#000" stroke-width="1.8"/>
<line x1="374" y1="708.6" x2="374" y2="713.1" stroke="#000" stroke-width="1.6"/>
<line x1="412.3" y1="708.6" x2="412.3" y2="713.1" stroke="#000" stroke-width="1.6"/>
<line x1="450.8" y1="708.6" x2="450.8" y2="713.1" stroke="#000" stroke-width="1.6"/>
<line x1="489.3" y1="708.6" x2="489.3" y2="713.1" stroke="#000" stroke-width="1.6"/>
<text transform="translate(367.28,735.12) rotate(-45)" font-size="12" fill="#000" textLength="17.9" lengthAdjust="spacingAndGlyphs">HD</text>
<text transform="translate(376.52,764.18) rotate(-45)" font-size="12" fill="#000" textLength="59" lengthAdjust="spacingAndGlyphs">no cGVHD</text>
<text transform="translate(413.61,765.59) rotate(-45)" font-size="12" fill="#000" textLength="61" lengthAdjust="spacingAndGlyphs">cGVHD D0</text>
<text transform="translate(446.66,771.04) rotate(-45)" font-size="12" fill="#000" textLength="68.7" lengthAdjust="spacingAndGlyphs">cGVHD M12</text>
<line x1="371" y1="535.3" x2="458" y2="535.3" stroke="#000" stroke-width="1.7"/>
<polygon points="414,525.75 414.63,527.43 416.43,527.51 415.03,528.63 415.5,530.36 414,529.38 412.5,530.36 412.97,528.63 411.57,527.51 413.37,527.43" fill="#000"/>
<line x1="371" y1="561.5" x2="408.5" y2="561.5" stroke="#000" stroke-width="1.7"/>
<polygon points="383.8,552.45 384.43,554.13 386.23,554.21 384.83,555.33 385.3,557.06 383.8,556.08 382.3,557.06 382.77,555.33 381.37,554.21 383.17,554.13" fill="#000"/>
<polygon points="389.6,552.45 390.23,554.13 392.03,554.21 390.63,555.33 391.1,557.06 389.6,556.08 388.1,557.06 388.57,555.33 387.17,554.21 388.97,554.13" fill="#000"/>
<polygon points="395.4,552.45 396.03,554.13 397.83,554.21 396.43,555.33 396.9,557.06 395.4,556.08 393.9,557.06 394.37,555.33 392.97,554.21 394.77,554.13" fill="#000"/>
<line x1="415.4" y1="561.5" x2="453.7" y2="561.5" stroke="#000" stroke-width="1.7"/>
<text x="435.2" y="556.1" font-size="12.2" fill="#000" text-anchor="middle" textLength="11.6" lengthAdjust="spacingAndGlyphs">ns</text>
<line x1="459.5" y1="561.5" x2="497" y2="561.5" stroke="#000" stroke-width="1.7"/>
<polygon points="475.1,552.25 475.73,553.93 477.53,554.01 476.13,555.13 476.6,556.86 475.1,555.88 473.6,556.86 474.07,555.13 472.67,554.01 474.47,553.93" fill="#000"/>
<polygon points="480.9,552.25 481.53,553.93 483.33,554.01 481.93,555.13 482.4,556.86 480.9,555.88 479.4,556.86 479.87,555.13 478.47,554.01 480.27,553.93" fill="#000"/>
<g transform="translate(309.2,689.5) rotate(-90)"><text x="-0.51" y="0" font-size="14.6" textLength="103.62" lengthAdjust="spacingAndGlyphs">Naive B cells × 10</text><text x="103.25" y="-6.5" font-size="10" textLength="5" lengthAdjust="spacingAndGlyphs">6</text><text x="108.09" y="0" font-size="14.6" textLength="12.32" lengthAdjust="spacingAndGlyphs">/L</text></g>
<line x1="82" y1="822" x2="82" y2="980.5" stroke="#000" stroke-width="1.8"/>
<line x1="77.2" y1="826.5" x2="82" y2="826.5" stroke="#000" stroke-width="1.6"/>
<text x="73.3" y="830.7" font-size="11.6" fill="#000" text-anchor="end" textLength="12.6" lengthAdjust="spacingAndGlyphs">40</text>
<line x1="77.2" y1="865" x2="82" y2="865" stroke="#000" stroke-width="1.6"/>
<text x="73.3" y="869.2" font-size="11.6" fill="#000" text-anchor="end" textLength="12.6" lengthAdjust="spacingAndGlyphs">30</text>
<line x1="77.2" y1="903.6" x2="82" y2="903.6" stroke="#000" stroke-width="1.6"/>
<text x="73.3" y="907.8" font-size="11.6" fill="#000" text-anchor="end" textLength="12.6" lengthAdjust="spacingAndGlyphs">20</text>
<line x1="77.2" y1="942.5" x2="82" y2="942.5" stroke="#000" stroke-width="1.6"/>
<text x="73.3" y="946.7" font-size="11.6" fill="#000" text-anchor="end" textLength="12.6" lengthAdjust="spacingAndGlyphs">10</text>
<line x1="77.2" y1="980.5" x2="82" y2="980.5" stroke="#000" stroke-width="1.6"/>
<text x="73.3" y="984.7" font-size="11.6" fill="#000" text-anchor="end" textLength="6.3" lengthAdjust="spacingAndGlyphs">0</text>
<circle cx="102.2" cy="949.8" r="2.75" fill="#b8103f" stroke="#720a27" stroke-width="1.0"/>
<circle cx="97.5" cy="955.2" r="2.75" fill="#b8103f" stroke="#720a27" stroke-width="1.0"/>
<circle cx="106.8" cy="954.6" r="2.75" fill="#b8103f" stroke="#720a27" stroke-width="1.0"/>
<circle cx="111.4" cy="956" r="2.75" fill="#b8103f" stroke="#720a27" stroke-width="1.0"/>
<circle cx="92.9" cy="959.8" r="2.75" fill="#b8103f" stroke="#720a27" stroke-width="1.0"/>
<circle cx="102.2" cy="961" r="2.75" fill="#b8103f" stroke="#720a27" stroke-width="1.0"/>
<circle cx="97.3" cy="965" r="2.75" fill="#b8103f" stroke="#720a27" stroke-width="1.0"/>
<circle cx="106.8" cy="965" r="2.75" fill="#b8103f" stroke="#720a27" stroke-width="1.0"/>
<circle cx="92.9" cy="970.8" r="2.75" fill="#b8103f" stroke="#720a27" stroke-width="1.0"/>
<circle cx="102.2" cy="973.7" r="2.75" fill="#b8103f" stroke="#720a27" stroke-width="1.0"/>
<circle cx="111.4" cy="972.5" r="2.75" fill="#b8103f" stroke="#720a27" stroke-width="1.0"/>
<circle cx="102.2" cy="968.5" r="2.75" fill="#b8103f" stroke="#720a27" stroke-width="1.0"/>
<circle cx="97.3" cy="968" r="2.75" fill="#b8103f" stroke="#720a27" stroke-width="1.0"/>
<circle cx="106.8" cy="969" r="2.75" fill="#b8103f" stroke="#720a27" stroke-width="1.0"/>
<rect x="128.1" y="934.7" width="6" height="6" fill="#2b4783" stroke="#1b2d5c" stroke-width="0.7"/>
<rect x="142.4" y="934.2" width="6" height="6" fill="#2b4783" stroke="#1b2d5c" stroke-width="0.7"/>
<rect x="147" y="936.2" width="6" height="6" fill="#2b4783" stroke="#1b2d5c" stroke-width="0.7"/>
<rect x="137.8" y="941.6" width="6" height="6" fill="#2b4783" stroke="#1b2d5c" stroke-width="0.7"/>
<rect x="128.1" y="951.6" width="6" height="6" fill="#2b4783" stroke="#1b2d5c" stroke-width="0.7"/>
<rect x="133.9" y="950" width="6" height="6" fill="#2b4783" stroke="#1b2d5c" stroke-width="0.7"/>
<rect x="147.8" y="951.6" width="6" height="6" fill="#2b4783" stroke="#1b2d5c" stroke-width="0.7"/>
<rect x="137.8" y="954" width="6" height="6" fill="#2b4783" stroke="#1b2d5c" stroke-width="0.7"/>
<rect x="137" y="970" width="6" height="6" fill="#2b4783" stroke="#1b2d5c" stroke-width="0.7"/>
<rect x="147" y="969.3" width="6" height="6" fill="#2b4783" stroke="#1b2d5c" stroke-width="0.7"/>
<polygon points="179.2,935.26 182.3,940.66 176.1,940.66" fill="#5e9c44" stroke="#4a8533" stroke-width="0.6"/>
<polygon points="179.2,951.36 182.3,956.76 176.1,956.76" fill="#5e9c44" stroke="#4a8533" stroke-width="0.6"/>
<polygon points="169.2,959.76 172.3,965.16 166.1,965.16" fill="#5e9c44" stroke="#4a8533" stroke-width="0.6"/>
<polygon points="169.5,972.76 172.6,978.16 166.4,978.16" fill="#5e9c44" stroke="#4a8533" stroke-width="0.6"/>
<polygon points="174,972.26 177.1,977.66 170.9,977.66" fill="#5e9c44" stroke="#4a8533" stroke-width="0.6"/>
<polygon points="179.2,971.76 182.3,977.16 176.1,977.16" fill="#5e9c44" stroke="#4a8533" stroke-width="0.6"/>
<polygon points="184,972.26 187.1,977.66 180.9,977.66" fill="#5e9c44" stroke="#4a8533" stroke-width="0.6"/>
<polygon points="188.5,973.26 191.6,978.66 185.4,978.66" fill="#5e9c44" stroke="#4a8533" stroke-width="0.6"/>
<polygon points="179.2,963.76 182.3,969.16 176.1,969.16" fill="#5e9c44" stroke="#4a8533" stroke-width="0.6"/>
<polygon points="217.7,855.54 220.8,850.14 214.6,850.14" fill="#3c2350" stroke="#291638" stroke-width="0.6"/>
<polygon points="217.7,874.04 220.8,868.64 214.6,868.64" fill="#3c2350" stroke="#291638" stroke-width="0.6"/>
<polygon points="217.7,948.24 220.8,942.84 214.6,942.84" fill="#3c2350" stroke="#291638" stroke-width="0.6"/>
<polygon points="217.7,957.14 220.8,951.74 214.6,951.74" fill="#3c2350" stroke="#291638" stroke-width="0.6"/>
<polygon points="208.5,965.94 211.6,960.54 205.4,960.54" fill="#3c2350" stroke="#291638" stroke-width="0.6"/>
<polygon points="227.1,970.84 230.2,965.44 224,965.44" fill="#3c2350" stroke="#291638" stroke-width="0.6"/>
<polygon points="217.7,974.54 220.8,969.14 214.6,969.14" fill="#3c2350" stroke="#291638" stroke-width="0.6"/>
<line x1="102.2" y1="962" x2="102.2" y2="966.2" stroke="#000" stroke-width="1.8"/>
<line x1="89.2" y1="964.1" x2="115.2" y2="964.1" stroke="#000" stroke-width="1.8"/>
<line x1="95.6" y1="962" x2="109.4" y2="962" stroke="#000" stroke-width="1.8"/>
<line x1="95.6" y1="966.2" x2="109.4" y2="966.2" stroke="#000" stroke-width="1.8"/>
<line x1="140.8" y1="948.9" x2="140.8" y2="955.7" stroke="#000" stroke-width="1.8"/>
<line x1="127.7" y1="952.3" x2="153.8" y2="952.3" stroke="#000" stroke-width="1.8"/>
<line x1="133.8" y1="948.9" x2="147.7" y2="948.9" stroke="#000" stroke-width="1.8"/>
<line x1="133.8" y1="955.7" x2="147.7" y2="955.7" stroke="#000" stroke-width="1.8"/>
<line x1="179.2" y1="965.8" x2="179.2" y2="971.5" stroke="#000" stroke-width="1.8"/>
<line x1="166.2" y1="968.9" x2="192" y2="968.9" stroke="#000" stroke-width="1.8"/>
<line x1="172.3" y1="965.8" x2="186.5" y2="965.8" stroke="#000" stroke-width="1.8"/>
<line x1="172.3" y1="971.5" x2="186.5" y2="971.5" stroke="#000" stroke-width="1.8"/>
<line x1="217.7" y1="914" x2="217.7" y2="951.5" stroke="#000" stroke-width="1.8"/>
<line x1="204.8" y1="932.4" x2="230.6" y2="932.4" stroke="#000" stroke-width="1.8"/>
<line x1="210.2" y1="914" x2="224.7" y2="914" stroke="#000" stroke-width="1.8"/>
<line x1="210.2" y1="951.5" x2="224.7" y2="951.5" stroke="#000" stroke-width="1.8"/>
<line x1="81.1" y1="980.5" x2="236.8" y2="980.5" stroke="#000" stroke-width="1.8"/>
<line x1="102" y1="980.5" x2="102" y2="985" stroke="#000" stroke-width="1.6"/>
<line x1="140.8" y1="980.5" x2="140.8" y2="985" stroke="#000" stroke-width="1.6"/>
<line x1="179.2" y1="980.5" x2="179.2" y2="985" stroke="#000" stroke-width="1.6"/>
<line x1="217.7" y1="980.5" x2="217.7" y2="985" stroke="#000" stroke-width="1.6"/>
<text transform="translate(95.28,1007.02) rotate(-45)" font-size="12" fill="#000" textLength="17.9" lengthAdjust="spacingAndGlyphs">HD</text>
<text transform="translate(105.02,1036.08) rotate(-45)" font-size="12" fill="#000" textLength="59" lengthAdjust="spacingAndGlyphs">no cGVHD</text>
<text transform="translate(142.01,1037.49) rotate(-45)" font-size="12" fill="#000" textLength="61" lengthAdjust="spacingAndGlyphs">cGVHD D0</text>
<text transform="translate(175.06,1042.94) rotate(-45)" font-size="12" fill="#000" textLength="68.7" lengthAdjust="spacingAndGlyphs">cGVHD M12</text>
<line x1="100" y1="824.6" x2="181.7" y2="824.6" stroke="#000" stroke-width="1.7"/>
<polygon points="140.5,814.75 141.13,816.43 142.93,816.51 141.53,817.63 142,819.36 140.5,818.38 139,819.36 139.47,817.63 138.07,816.51 139.87,816.43" fill="#000"/>
<line x1="182.9" y1="833" x2="217.5" y2="833" stroke="#000" stroke-width="1.7"/>
<polygon points="200.2,823.25 200.83,824.93 202.63,825.01 201.23,826.13 201.7,827.86 200.2,826.88 198.7,827.86 199.17,826.13 197.77,825.01 199.57,824.93" fill="#000"/>
<line x1="100" y1="850.6" x2="136.7" y2="850.6" stroke="#000" stroke-width="1.7"/>
<polygon points="118,840.85 118.63,842.53 120.43,842.61 119.03,843.73 119.5,845.46 118,844.48 116.5,845.46 116.97,843.73 115.57,842.61 117.37,842.53" fill="#000"/>
<line x1="143.4" y1="850.6" x2="181.7" y2="850.6" stroke="#000" stroke-width="1.7"/>
<polygon points="159.3,840.65 159.93,842.33 161.73,842.41 160.33,843.53 160.8,845.26 159.3,844.28 157.8,845.26 158.27,843.53 156.87,842.41 158.67,842.33" fill="#000"/>
<polygon points="165.1,840.65 165.73,842.33 167.53,842.41 166.13,843.53 166.6,845.26 165.1,844.28 163.6,845.26 164.07,843.53 162.67,842.41 164.47,842.33" fill="#000"/>
<g transform="translate(51.8,990.6) rotate(-90)"><text x="-0.51" y="0" font-size="14.6" textLength="12.62" lengthAdjust="spacingAndGlyphs">%</text><text x="17.09" y="0" font-size="14.6" textLength="35.22" lengthAdjust="spacingAndGlyphs">PD-L1</text><text x="52.83" y="-5.7" font-size="10.5" textLength="9.23" lengthAdjust="spacingAndGlyphs">hi</text><text x="67.29" y="0" font-size="14.6" textLength="109.62" lengthAdjust="spacingAndGlyphs">within naive B cells</text></g>
<line x1="353.6" y1="827.3" x2="353.6" y2="980.3" stroke="#000" stroke-width="1.8"/>
<line x1="348.8" y1="833.1" x2="353.6" y2="833.1" stroke="#000" stroke-width="1.6"/>
<text x="344" y="837.3" font-size="11.6" fill="#000" text-anchor="end" textLength="18.9" lengthAdjust="spacingAndGlyphs">120</text>
<line x1="348.8" y1="882" x2="353.6" y2="882" stroke="#000" stroke-width="1.6"/>
<text x="344" y="886.2" font-size="11.6" fill="#000" text-anchor="end" textLength="12.6" lengthAdjust="spacingAndGlyphs">80</text>
<line x1="348.8" y1="930.9" x2="353.6" y2="930.9" stroke="#000" stroke-width="1.6"/>
<text x="344" y="935.1" font-size="11.6" fill="#000" text-anchor="end" textLength="12.6" lengthAdjust="spacingAndGlyphs">40</text>
<line x1="348.8" y1="980.3" x2="353.6" y2="980.3" stroke="#000" stroke-width="1.6"/>
<text x="344" y="984.5" font-size="11.6" fill="#000" text-anchor="end" textLength="6.3" lengthAdjust="spacingAndGlyphs">0</text>
<circle cx="373.6" cy="968.5" r="2.75" fill="#b8103f" stroke="#720a27" stroke-width="1.0"/>
<circle cx="373.6" cy="972.3" r="2.75" fill="#b8103f" stroke="#720a27" stroke-width="1.0"/>
<circle cx="383" cy="972.7" r="2.75" fill="#b8103f" stroke="#720a27" stroke-width="1.0"/>
<circle cx="362" cy="979" r="2.75" fill="#b8103f" stroke="#720a27" stroke-width="1.0"/>
<circle cx="367.5" cy="979.5" r="2.75" fill="#b8103f" stroke="#720a27" stroke-width="1.0"/>
<circle cx="373" cy="979.5" r="2.75" fill="#b8103f" stroke="#720a27" stroke-width="1.0"/>
<circle cx="378.5" cy="979.5" r="2.75" fill="#b8103f" stroke="#720a27" stroke-width="1.0"/>
<circle cx="384.5" cy="979" r="2.75" fill="#b8103f" stroke="#720a27" stroke-width="1.0"/>
<rect x="408.9" y="859.9" width="6" height="6" fill="#2b4783" stroke="#1b2d5c" stroke-width="0.7"/>
<rect x="408.9" y="905.8" width="6" height="6" fill="#2b4783" stroke="#1b2d5c" stroke-width="0.7"/>
<rect x="408.9" y="923.9" width="6" height="6" fill="#2b4783" stroke="#1b2d5c" stroke-width="0.7"/>
<rect x="418.2" y="931.9" width="6" height="6" fill="#2b4783" stroke="#1b2d5c" stroke-width="0.7"/>
<rect x="408.9" y="934.5" width="6" height="6" fill="#2b4783" stroke="#1b2d5c" stroke-width="0.7"/>
<rect x="408.9" y="954.2" width="6" height="6" fill="#2b4783" stroke="#1b2d5c" stroke-width="0.7"/>
<rect x="399.6" y="965.7" width="6" height="6" fill="#2b4783" stroke="#1b2d5c" stroke-width="0.7"/>
<rect x="413.5" y="964.8" width="6" height="6" fill="#2b4783" stroke="#1b2d5c" stroke-width="0.7"/>
<rect x="418.2" y="969.7" width="6" height="6" fill="#2b4783" stroke="#1b2d5c" stroke-width="0.7"/>
<rect x="408.9" y="973" width="6" height="6" fill="#2b4783" stroke="#1b2d5c" stroke-width="0.7"/>
<polygon points="450.5,832.06 453.6,837.46 447.4,837.46" fill="#5e9c44" stroke="#4a8533" stroke-width="0.6"/>
<polygon points="450.5,933.76 453.6,939.16 447.4,939.16" fill="#5e9c44" stroke="#4a8533" stroke-width="0.6"/>
<polygon points="459.7,954.66 462.8,960.06 456.6,960.06" fill="#5e9c44" stroke="#4a8533" stroke-width="0.6"/>
<polygon points="450,955.26 453.1,960.66 446.9,960.66" fill="#5e9c44" stroke="#4a8533" stroke-width="0.6"/>
<polygon points="442,976.26 445.1,981.66 438.9,981.66" fill="#5e9c44" stroke="#4a8533" stroke-width="0.6"/>
<polygon points="446,973.76 449.1,979.16 442.9,979.16" fill="#5e9c44" stroke="#4a8533" stroke-width="0.6"/>
<polygon points="450.5,971.26 453.6,976.66 447.4,976.66" fill="#5e9c44" stroke="#4a8533" stroke-width="0.6"/>
<polygon points="455,973.76 458.1,979.16 451.9,979.16" fill="#5e9c44" stroke="#4a8533" stroke-width="0.6"/>
<polygon points="459,976.26 462.1,981.66 455.9,981.66" fill="#5e9c44" stroke="#4a8533" stroke-width="0.6"/>
<polygon points="447.5,977.26 450.6,982.66 444.4,982.66" fill="#5e9c44" stroke="#4a8533" stroke-width="0.6"/>
<polygon points="453.5,977.26 456.6,982.66 450.4,982.66" fill="#5e9c44" stroke="#4a8533" stroke-width="0.6"/>
<polygon points="450.5,975.26 453.6,980.66 447.4,980.66" fill="#5e9c44" stroke="#4a8533" stroke-width="0.6"/>
<polygon points="488.7,971.04 491.8,965.64 485.6,965.64" fill="#3c2350" stroke="#291638" stroke-width="0.6"/>
<polygon points="478,982.74 481.1,977.34 474.9,977.34" fill="#3c2350" stroke="#291638" stroke-width="0.6"/>
<polygon points="483.5,983.24 486.6,977.84 480.4,977.84" fill="#3c2350" stroke="#291638" stroke-width="0.6"/>
<polygon points="489,983.74 492.1,978.34 485.9,978.34" fill="#3c2350" stroke="#291638" stroke-width="0.6"/>
<polygon points="494.5,983.24 497.6,977.84 491.4,977.84" fill="#3c2350" stroke="#291638" stroke-width="0.6"/>
<polygon points="500,982.74 503.1,977.34 496.9,977.34" fill="#3c2350" stroke="#291638" stroke-width="0.6"/>
<line x1="373.6" y1="975.5" x2="373.6" y2="978.5" stroke="#000" stroke-width="1.8"/>
<line x1="360.8" y1="976.6" x2="386.3" y2="976.6" stroke="#000" stroke-width="1.8"/>
<line x1="367" y1="975.5" x2="380" y2="975.5" stroke="#000" stroke-width="1.8"/>
<line x1="367" y1="978.5" x2="380" y2="978.5" stroke="#000" stroke-width="1.8"/>
<line x1="411.9" y1="930.2" x2="411.9" y2="952.8" stroke="#000" stroke-width="1.8"/>
<line x1="399" y1="941.5" x2="424.7" y2="941.5" stroke="#000" stroke-width="1.8"/>
<line x1="404.9" y1="930.2" x2="418.9" y2="930.2" stroke="#000" stroke-width="1.8"/>
<line x1="404.9" y1="952.8" x2="418.9" y2="952.8" stroke="#000" stroke-width="1.8"/>
<line x1="450.5" y1="951.5" x2="450.5" y2="972" stroke="#000" stroke-width="1.8"/>
<line x1="437.9" y1="961.9" x2="463.7" y2="961.9" stroke="#000" stroke-width="1.8"/>
<line x1="443" y1="951.5" x2="458" y2="951.5" stroke="#000" stroke-width="1.8"/>
<line x1="443" y1="972" x2="458" y2="972" stroke="#000" stroke-width="1.8"/>
<line x1="488.9" y1="978" x2="488.9" y2="980" stroke="#000" stroke-width="1.8"/>
<line x1="477" y1="979" x2="501.5" y2="979" stroke="#000" stroke-width="1.8"/>
<line x1="483" y1="978" x2="495" y2="978" stroke="#000" stroke-width="1.8"/>
<line x1="483" y1="980" x2="495" y2="980" stroke="#000" stroke-width="1.8"/>
<line x1="352.7" y1="980.3" x2="507.6" y2="980.3" stroke="#000" stroke-width="1.8"/>
<line x1="373.6" y1="980.3" x2="373.6" y2="984.8" stroke="#000" stroke-width="1.6"/>
<line x1="411.9" y1="980.3" x2="411.9" y2="984.8" stroke="#000" stroke-width="1.6"/>
<line x1="450.5" y1="980.3" x2="450.5" y2="984.8" stroke="#000" stroke-width="1.6"/>
<line x1="488.9" y1="980.3" x2="488.9" y2="984.8" stroke="#000" stroke-width="1.6"/>
<text transform="translate(366.88,1006.82) rotate(-45)" font-size="12" fill="#000" textLength="17.9" lengthAdjust="spacingAndGlyphs">HD</text>
<text transform="translate(376.12,1035.88) rotate(-45)" font-size="12" fill="#000" textLength="59" lengthAdjust="spacingAndGlyphs">no cGVHD</text>
<text transform="translate(413.31,1037.29) rotate(-45)" font-size="12" fill="#000" textLength="61" lengthAdjust="spacingAndGlyphs">cGVHD D0</text>
<text transform="translate(446.26,1042.74) rotate(-45)" font-size="12" fill="#000" textLength="68.7" lengthAdjust="spacingAndGlyphs">cGVHD M12</text>
<line x1="371" y1="801.7" x2="452.3" y2="801.7" stroke="#000" stroke-width="1.7"/>
<text x="411.9" y="796.2" font-size="12.2" fill="#000" text-anchor="middle" textLength="11.6" lengthAdjust="spacingAndGlyphs">ns</text>
<line x1="371" y1="828.3" x2="408.5" y2="828.3" stroke="#000" stroke-width="1.7"/>
<polygon points="383.6,819.25 384.23,820.93 386.03,821.01 384.63,822.13 385.1,823.86 383.6,822.88 382.1,823.86 382.57,822.13 381.17,821.01 382.97,820.93" fill="#000"/>
<polygon points="389.4,819.25 390.03,820.93 391.83,821.01 390.43,822.13 390.9,823.86 389.4,822.88 387.9,823.86 388.37,822.13 386.97,821.01 388.77,820.93" fill="#000"/>
<polygon points="395.2,819.25 395.83,820.93 397.63,821.01 396.23,822.13 396.7,823.86 395.2,822.88 393.7,823.86 394.17,822.13 392.77,821.01 394.57,820.93" fill="#000"/>
<line x1="414.8" y1="828.3" x2="452.3" y2="828.3" stroke="#000" stroke-width="1.7"/>
<polygon points="433.5,819.25 434.13,820.93 435.93,821.01 434.53,822.13 435,823.86 433.5,822.88 432,823.86 432.47,822.13 431.07,821.01 432.87,820.93" fill="#000"/>
<line x1="458" y1="828.3" x2="491.2" y2="828.3" stroke="#000" stroke-width="1.7"/>
<polygon points="471.5,817.85 472.13,819.53 473.93,819.61 472.53,820.73 473,822.46 471.5,821.48 470,822.46 470.47,820.73 469.07,819.61 470.87,819.53" fill="#000"/>
<polygon points="477.3,817.85 477.93,819.53 479.73,819.61 478.33,820.73 478.8,822.46 477.3,821.48 475.8,822.46 476.27,820.73 474.87,819.61 476.67,819.53" fill="#000"/>
<g transform="translate(315.8,987.3) rotate(-90)"><text x="-0.51" y="0" font-size="14.6" textLength="35.82" lengthAdjust="spacingAndGlyphs">PD-L1</text><text x="36.43" y="-5.5" font-size="10.5" textLength="7.74" lengthAdjust="spacingAndGlyphs">hi</text><text x="48.69" y="0" font-size="14.6" textLength="101.52" lengthAdjust="spacingAndGlyphs">naive B cells × 10</text><text x="150.75" y="-6.8" font-size="10" textLength="5.1" lengthAdjust="spacingAndGlyphs">6</text><text x="155.89" y="0" font-size="14.6" textLength="12.12" lengthAdjust="spacingAndGlyphs">/L</text></g>
<rect x="1" y="1" width="518" height="1053" fill="none" stroke="#000" stroke-width="2"/>
</svg>
</body></html>
